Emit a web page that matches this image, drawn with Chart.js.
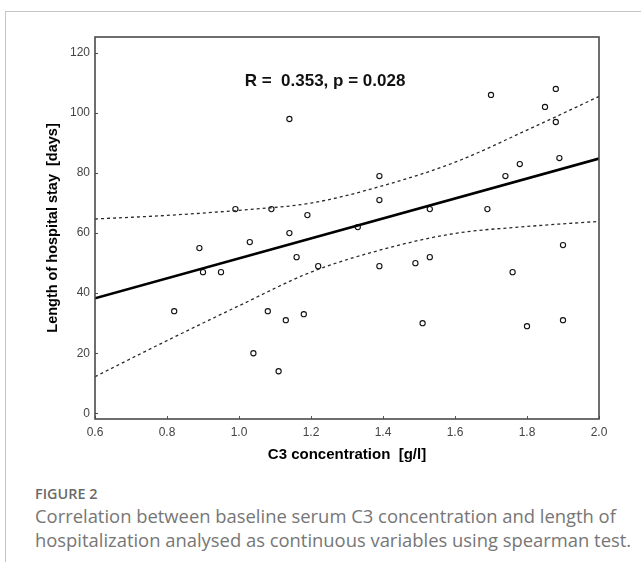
<!DOCTYPE html>
<html>
<head>
<meta charset="utf-8">
<script src="https://cdn.jsdelivr.net/npm/chart.js@4.4.1/dist/chart.umd.min.js"></script>
<style>
  body { margin: 0; background: #fff; width: 641px; height: 562px; overflow: hidden; position: relative; }
  #frame { position: absolute; left: 5px; top: 11px; width: 640px; height: 560px;
           border-top: 1px solid #c4c4c4; border-left: 1px solid #c4c4c4; }
  #chart { position: absolute; left: 0; top: 0; }
  #fig { position: absolute; left: 35px; top: 484px; font-family: "Open Sans"; font-weight: 600;
         font-size: 14.4px; line-height: 20px; color: #6a6a6a; }
  #caption { position: absolute; left: 35px; top: 504px; font-family: "Open Sans"; font-size: 18.4px;
             line-height: 24px; color: #767676; white-space: nowrap; }
</style>
</head>
<body>
<div id="frame"></div>
<canvas id="chart" width="641" height="475"></canvas>
<div id="fig">FIGURE 2</div>
<div id="caption">Correlation between baseline serum C3 concentration and length of<br>hospitalization analysed as continuous variables using spearman test.</div>
<script>
// data
const c3 = [0.82, 0.89, 0.90, 0.95, 0.99, 1.03, 1.04, 1.08, 1.09, 1.11, 1.13, 1.14, 1.14, 1.16, 1.18, 1.19, 1.22, 1.33, 1.39, 1.39,
            1.39, 1.49, 1.51, 1.53, 1.53, 1.69, 1.70, 1.74, 1.76, 1.78, 1.80, 1.85, 1.88, 1.88, 1.89, 1.90, 1.90];
const stayDays = [34, 55, 47, 47, 68, 57, 20, 34, 68, 14, 31, 98, 60, 52, 33, 66, 49, 62, 79, 71,
                  49, 50, 30, 68, 52, 68, 106, 79, 47, 83, 29, 102, 108, 97, 85, 56, 31];

const fitX = [0.6, 2.0];
const fitY = [38.3, 84.8];

const bandX = [0.6, 0.8, 1.0, 1.2, 1.4, 1.6, 1.8, 2.0];
const bandUpper = [64.7, 65.9, 67.6, 70.0, 75.8, 83.6, 94.3, 105.5];
const bandLower = [12.2, 24.2, 35.8, 47.0, 54.6, 59.9, 62.2, 63.9];

const xTicks = [0.6, 0.8, 1.0, 1.2, 1.4, 1.6, 1.8, 2.0];
const yTicks = [0, 20, 40, 60, 80, 100, 120];

const statText = 'R =  0.353, p = 0.028';

const toPts = (xs, ys) => xs.map((x, i) => ({ x: x, y: ys[i] }));
const fontFam = '"Liberation Sans", Arial, sans-serif';

// box round the plot, inward tick marks, and the R/p label
const framePlugin = {
    id: 'frame',
    afterDraw(chart) {
        const { ctx, chartArea: a, scales } = chart;
        ctx.save();
        ctx.strokeStyle = '#555';
        ctx.lineWidth = 1;
        xTicks.forEach(v => {
            const px = Math.round(scales.x.getPixelForValue(v)) + 0.5;
            ctx.beginPath(); ctx.moveTo(px, a.bottom); ctx.lineTo(px, a.bottom - 3); ctx.stroke();
        });
        yTicks.forEach(v => {
            const py = Math.round(scales.y.getPixelForValue(v)) + 0.5;
            ctx.beginPath(); ctx.moveTo(a.left, py); ctx.lineTo(a.left + 3, py); ctx.stroke();
        });
        ctx.lineWidth = 1.6;
        ctx.strokeStyle = '#4a4a4a';
        ctx.strokeRect(a.left, a.top, a.right - a.left, a.bottom - a.top);

        ctx.fillStyle = '#111';
        ctx.font = 'bold 17px ' + fontFam;
        ctx.textAlign = 'center';
        ctx.textBaseline = 'alphabetic';
        ctx.fillText(statText, a.left + 230, a.top + 49);
        ctx.restore();
    }
};

new Chart(document.getElementById('chart'), {
    type: 'scatter',
    data: {
        datasets: [
            {
                data: toPts(bandX, bandUpper), showLine: true, borderColor: '#2a2a2a', borderWidth: 1.3,
                borderDash: [3, 3], pointRadius: 0, cubicInterpolationMode: 'monotone', fill: false
            },
            {
                data: toPts(bandX, bandLower), showLine: true, borderColor: '#2a2a2a', borderWidth: 1.3,
                borderDash: [3, 3], pointRadius: 0, cubicInterpolationMode: 'monotone', fill: false
            },
            {
                data: toPts(fitX, fitY), showLine: true, borderColor: '#000', borderWidth: 2.6,
                pointRadius: 0, fill: false
            },
            {
                data: toPts(c3, stayDays), pointRadius: 2.6, pointBorderWidth: 1.1,
                borderColor: '#111', backgroundColor: '#fff', pointHoverRadius: 2.6
            }
        ]
    },
    options: {
        responsive: false,
        animation: false,
        layout: { padding: { top: 37, right: 42, left: 0, bottom: 0 } },
        plugins: { legend: { display: false }, tooltip: { enabled: false } },
        scales: {
            x: {
                type: 'linear', min: 0.6, max: 2.0,
                afterBuildTicks: s => { s.ticks = xTicks.map(v => ({ value: v })); },
                afterFit: s => { s.height = 56; },
                grid: { display: false, drawTicks: false },
                border: { display: false },
                ticks: { padding: 6, autoSkip: false, maxRotation: 0, color: '#444',
                         font: { family: fontFam, size: 12 }, callback: v => v.toFixed(1) },
                title: { display: true, text: 'C3 concentration  [g/l]', color: '#000',
                         font: { family: fontFam, size: 15, weight: 'bold' }, padding: { top: 0, bottom: 11 } }
            },
            y: {
                type: 'linear', min: -1.9, max: 125.3,
                afterBuildTicks: s => { s.ticks = yTicks.map(v => ({ value: v })); },
                afterFit: s => { s.width = 95; },
                grid: { display: false, drawTicks: false },
                border: { display: false },
                ticks: { padding: 5, autoSkip: false, color: '#444',
                         font: { family: fontFam, size: 12 } },
                title: { display: true, text: 'Length of hospital stay  [days]', color: '#000',
                         font: { family: fontFam, size: 14.5, weight: 'bold' }, padding: { top: 44, bottom: 0 } }
            }
        }
    },
    plugins: [framePlugin]
});
</script>
</body>
</html>
